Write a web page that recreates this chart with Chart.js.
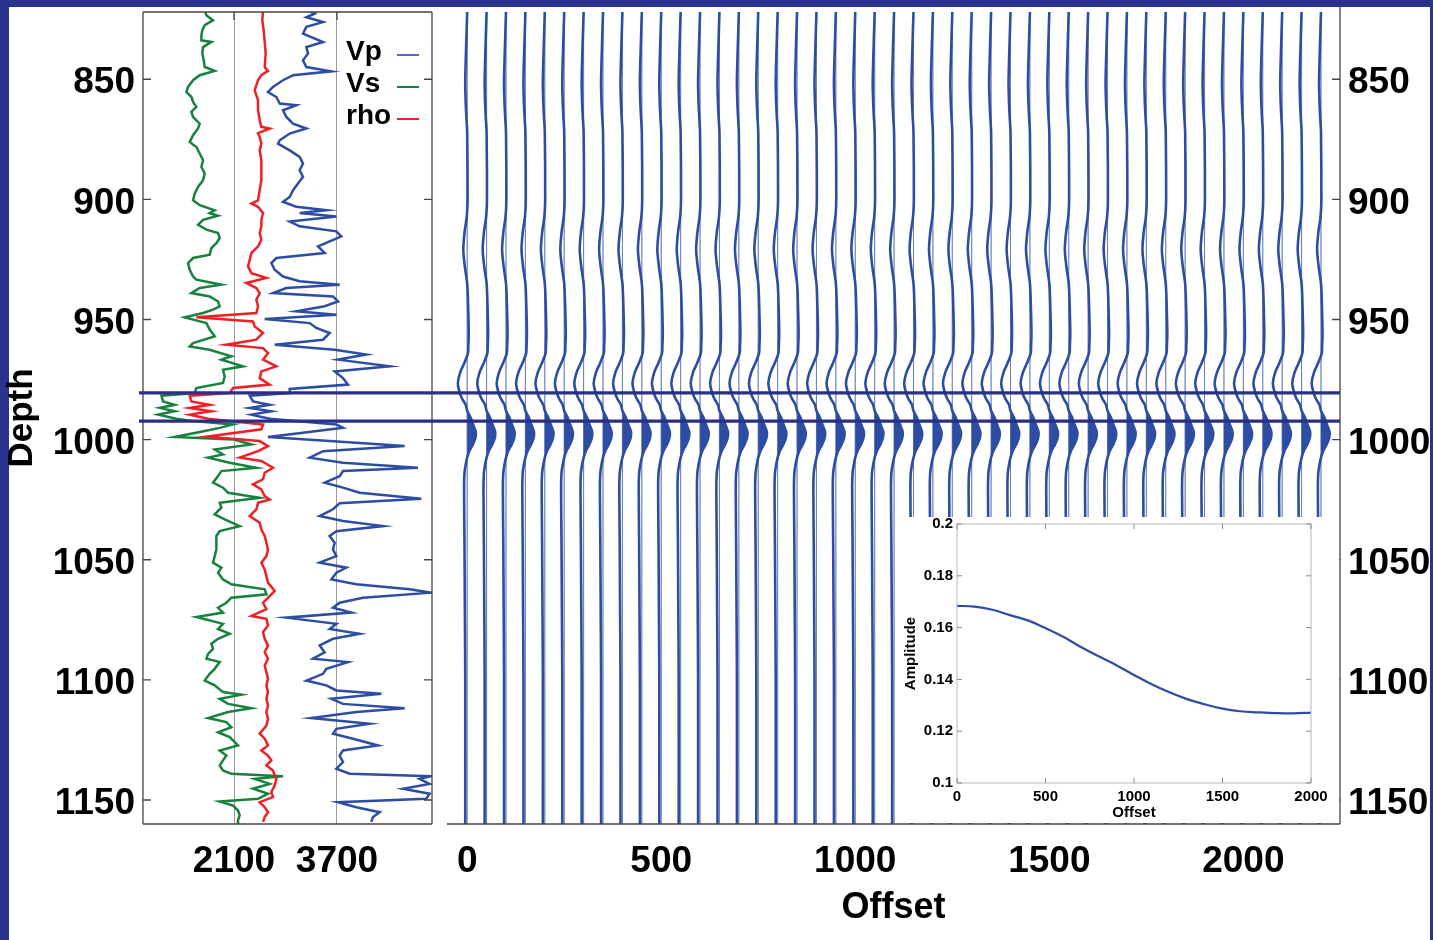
<!DOCTYPE html>
<html lang="en">
<head>
<meta charset="utf-8">
<title>Gas sand: well logs and offset gather</title>
<script src="https://cdn.jsdelivr.net/npm/chart.js@4.4.1/dist/chart.umd.min.js"></script>
<style>
  html, body { margin: 0; padding: 0; }
  body { position: relative; width: 1433px; height: 940px; overflow: hidden; background: #2a3390; }
  #sheet { position: absolute; left: 9px; top: 7px; width: 1421px; height: 933px; background: #ffffff; }
  canvas { position: absolute; }
  #log-chart { left: 0; top: 0; width: 440px; height: 940px; }
  #gather-chart { left: 440px; top: 0; width: 990px; height: 940px; }
  #avo-chart { left: 897px; top: 517px; width: 442px; height: 306px; }
</style>
</head>
<body>
<div id="sheet"></div>
<canvas id="log-chart" width="440" height="940"></canvas>
<canvas id="gather-chart" width="990" height="940"></canvas>
<canvas id="avo-chart" width="442" height="306"></canvas>
<script>
// depth axis, shared by the logs and the gather (m)
const depthMin = 822;
const depthMax = 1160;
const depthTicks = [850, 900, 950, 1000, 1050, 1100, 1150];
const gasTop = 980.5;
const gasBase = 992.3;

// log panel x axis
const logMin = 686;
const logMax = 5176;
const logTicks = [2100, 3700];

// Vs log
const vsDepth = [821.3, 823.4, 825.5, 827.5, 829.6, 831.7, 833.8, 834.5, 836.6, 839.3,
  842.1, 844.9, 846.5, 848.3, 850.4, 853.2, 855.3, 857.4, 859.4, 861.5,
  863.6, 865.7, 868.5, 870.5, 873.3, 876.1, 878.2, 880.9, 883.7, 886.5,
  889.3, 892, 894.8, 897.6, 900.4, 902.4, 904.5, 905.7, 906.8, 908.5,
  910.6, 912.6, 914, 916.1, 918.2, 920.3, 923, 924.4, 926.5, 929.3,
  932.1, 933.4, 935.5, 936.9, 939, 940.4, 942.5, 944.5, 945.9, 947.3,
  949.1, 951.5, 954.2, 957, 959.8, 961.2, 962.6, 965.3, 966.7, 969.5,
  970.9, 973.7, 976.4, 978.5, 980.6, 981.7, 984.1, 985.5, 986.8, 988.2,
  989.6, 991.3, 992.3, 993.7, 995.1, 996.4, 998.9, 999.9, 1002, 1004.1,
  1006.2, 1007.5, 1009.6, 1011.7, 1013.1, 1015.2, 1017.9, 1020, 1022.1, 1024.2,
  1026.3, 1028.3, 1031.1, 1033.2, 1036, 1038.1, 1040.1, 1042.9, 1045.7, 1048.5,
  1051.2, 1053.3, 1055.4, 1058.2, 1060.2, 1062.3, 1064.4, 1065.8, 1067.9, 1070,
  1072, 1073.8, 1076.7, 1078.8, 1080.8, 1082.9, 1085, 1087.1, 1089.2, 1091.2,
  1092.6, 1095.4, 1097.5, 1100.3, 1102.3, 1105.1, 1106.2, 1107.9, 1110, 1111.8,
  1113.4, 1115.9, 1117.6, 1119.7, 1121.8, 1123.8, 1127.3, 1129.4, 1131.5, 1133.5,
  1135.6, 1137.7, 1139.1, 1140.1, 1141.2, 1143.3, 1145.3, 1147.4, 1149.5, 1150.6,
  1152.3, 1154.4, 1156.4, 1158.5, 1160];
const vsValue = [1645, 1671, 1774, 1645, 1608, 1593, 1593, 1748, 1619, 1608,
  1629, 1645, 1800, 1567, 1464, 1386, 1360, 1438, 1464, 1515,
  1438, 1464, 1567, 1541, 1464, 1412, 1515, 1567, 1619, 1593,
  1645, 1619, 1541, 1489, 1464, 1567, 1800, 1722, 1852, 1619,
  1541, 1671, 1852, 1878, 1826, 1748, 1722, 1464, 1386, 1412,
  1464, 1515, 1904, 1567, 1438, 1722, 1852, 1878, 1774, 1619,
  1334, 1671, 1722, 1800, 1464, 1412, 1722, 2059, 1904, 2240,
  1929, 1955, 1929, 1515, 1489, 972, 998, 1179, 946, 1179,
  920, 1205, 1464, 2085, 1878, 1645, 1179, 2085, 2370, 1800,
  1929, 1697, 2033, 2447, 1904, 1852, 1774, 1929, 2007, 2499,
  1878, 1904, 1800, 1955, 2188, 1878, 1826, 1826, 1826, 1800,
  1774, 1904, 1852, 1929, 2059, 2577, 2603, 2059, 1981, 1852,
  1929, 1515, 1929, 1852, 2033, 1852, 1748, 1774, 1697, 1671,
  1878, 1800, 1722, 1645, 1800, 1929, 2214, 1878, 2007, 2370,
  2007, 1697, 1981, 2059, 1852, 2033, 2162, 1878, 1981, 1929,
  1878, 1929, 2059, 2861, 2421, 2654, 2395, 2628, 2473, 1878,
  2085, 2162, 2188, 2162, 2162];

// density log
const rhoDepth = [821.3, 825.5, 829.6, 834.5, 839.3, 844.9, 846.5, 848.3, 850.4, 854.6,
  858.7, 862.9, 867.1, 869.8, 870.5, 872.4, 874, 876.8, 879.6, 883.7,
  887.9, 892, 896.2, 900.4, 901.7, 903.1, 905.7, 908.5, 911.2, 914,
  916.8, 919.6, 922.3, 925.1, 927.9, 930.7, 932.7, 934.8, 936.9, 939,
  941.8, 944.5, 947.3, 949.1, 950.8, 952.9, 955.6, 958.4, 960.5, 961.9,
  964, 966.7, 969.5, 971.6, 974.4, 977.1, 978.5, 980.6, 981.7, 984.1,
  985.5, 986.8, 988.2, 989.6, 991.3, 993.7, 995.7, 998.8, 1000.6, 1002.7,
  1004.8, 1007.5, 1008.9, 1011.7, 1013.8, 1016.5, 1018.6, 1020.7, 1023.5, 1024.9,
  1026.3, 1029, 1031.8, 1034.6, 1037.4, 1040.1, 1042.9, 1045.7, 1048.5, 1051.2,
  1054, 1056.8, 1059.5, 1063, 1065.1, 1067.9, 1070.6, 1073.4, 1074.6, 1077.4,
  1080.1, 1082.9, 1085.7, 1088.5, 1091.2, 1094, 1096.8, 1099.6, 1102.3, 1105.1,
  1107.9, 1110.7, 1113.4, 1116.2, 1119, 1122.4, 1124.5, 1127.3, 1129.4, 1131.5,
  1133.5, 1135.6, 1137.7, 1139.8, 1141.2, 1143.9, 1146.7, 1148.8, 1150.9, 1153,
  1155.1, 1157.1, 1159.1];
const rhoValue = [2551, 2540, 2560, 2577, 2592, 2577, 2628, 2525, 2473, 2421,
  2473, 2473, 2499, 2525, 2654, 2473, 2499, 2525, 2499, 2525,
  2525, 2525, 2499, 2473, 2370, 2473, 2551, 2525, 2525, 2499,
  2525, 2473, 2370, 2344, 2318, 2370, 2603, 2292, 2447, 2499,
  2447, 2473, 2447, 1515, 2395, 2421, 2551, 2447, 1981, 2551,
  2628, 2551, 2758, 2525, 2499, 2654, 2085, 2033, 1412, 1438,
  1722, 1412, 1748, 1412, 1697, 2551, 2525, 1671, 2499, 2628,
  2473, 2188, 2525, 2706, 2577, 2551, 2395, 2525, 2577, 2654,
  2473, 2447, 2344, 2499, 2525, 2577, 2603, 2628, 2603, 2525,
  2577, 2603, 2628, 2732, 2654, 2551, 2603, 2370, 2603, 2628,
  2551, 2577, 2628, 2577, 2628, 2577, 2603, 2628, 2603, 2628,
  2603, 2628, 2603, 2628, 2603, 2499, 2577, 2628, 2525, 2628,
  2680, 2603, 2706, 2732, 2758, 2732, 2680, 2706, 2499, 2577,
  2628, 2577, 2551];

// Vp log
const vpDepth = [821.3, 822.7, 824.2, 826.2, 828.2, 831, 834.5, 836.6, 839.3, 842.1,
  844.9, 846.7, 848.3, 850.4, 853.2, 855.3, 857.4, 860.1, 860.8, 862.9,
  865.7, 868.5, 870.5, 872.6, 875.4, 876.8, 879.6, 882.3, 885.1, 887.9,
  890.6, 893.4, 896.2, 899, 901, 903.1, 904.5, 905.7, 907.1, 909.2,
  911.2, 913.3, 915.4, 917.5, 919.6, 922.3, 924.4, 926.5, 929.3, 932.1,
  934.1, 935.5, 936.9, 939, 940.4, 942.5, 944.5, 946.6, 948, 949.8,
  951.5, 953.5, 955.6, 958.4, 960.5, 962.6, 964.6, 966.7, 969.5, 971.6,
  974.4, 977.1, 978.9, 980.6, 981.7, 984.1, 985.5, 986.8, 988.2, 989.6,
  991.3, 993.7, 995.1, 997.1, 998.9, 1000.6, 1002.7, 1004.8, 1007.5, 1009.6,
  1011.7, 1013.1, 1015.2, 1017.9, 1020, 1022.1, 1024.6, 1026.5, 1029, 1031.8,
  1033.9, 1036, 1038.1, 1040.1, 1042.9, 1045.7, 1048.5, 1051.2, 1053.3, 1055.4,
  1058.2, 1060.2, 1062.3, 1063.7, 1065.8, 1067.9, 1070, 1072, 1074.1, 1076.7,
  1078.8, 1080.8, 1082.9, 1085.7, 1088.5, 1091.2, 1092.6, 1095.4, 1097.5, 1100.3,
  1102.3, 1104.4, 1105.8, 1107.9, 1110, 1111.8, 1113.4, 1115.9, 1118.3, 1120.4,
  1122.4, 1124.5, 1127.3, 1129.4, 1131.5, 1134.2, 1137, 1139.1, 1140.1, 1141.2,
  1143.3, 1145.3, 1147.4, 1149.5, 1150.9, 1153, 1155.1, 1157.1, 1159.1];
const vpValue = [3250, 3353, 3224, 3483, 3224, 3172, 3483, 3224, 3250, 3172,
  3224, 3612, 3017, 2861, 2706, 2628, 2758, 2810, 3068, 2861,
  2913, 3017, 3224, 2965, 2810, 2784, 2965, 3120, 3172, 3120,
  3172, 3094, 3017, 2965, 2861, 3068, 3534, 3120, 3690, 2965,
  3120, 3690, 3767, 3586, 3405, 3508, 2758, 2680, 2732, 2861,
  3120, 3741, 2913, 2706, 3638, 3716, 3508, 3068, 3690, 2577,
  3276, 3379, 3586, 3483, 2732, 3664, 4156, 3716, 4518, 3664,
  3793, 3871, 2965, 2965, 2344, 2395, 2654, 2344, 2680, 2370,
  2654, 3690, 3793, 3172, 2628, 3586, 4751, 3483, 3276, 3793,
  4958, 3793, 3741, 3508, 3793, 4052, 5010, 3741, 3638, 3431,
  3793, 4414, 3690, 3586, 3664, 3638, 3690, 3431, 3845, 3690,
  3612, 4000, 4829, 5165, 4104, 3741, 3638, 3923, 2913, 3690,
  3586, 4052, 3638, 3431, 3508, 3327, 3871, 3534, 3483, 3224,
  3534, 3690, 4389, 3612, 3793, 4751, 4000, 3301, 4207, 3690,
  3638, 3949, 4337, 3793, 3741, 3793, 3690, 3897, 5165, 4984,
  5139, 4725, 5139, 5087, 3716, 4000, 4363, 4259, 4233];

// gather: offsets of the traces and the wavelet
const offsetMin = -52;
const offsetMax = 2249;
const offsetTicks = [0, 500, 1000, 1500, 2000];
const traceOffsets = [0, 50, 100, 150, 200, 250, 300, 350, 400, 450, 500, 550, 600, 650, 700,
  750, 800, 850, 900, 950, 1000, 1050, 1100, 1150, 1200, 1250, 1300, 1350, 1400, 1450,
  1500, 1550, 1600, 1650, 1700, 1750, 1800, 1850, 1900, 1950, 2000, 2050, 2100, 2150, 2200];
const traceDepth = [822, 838, 851, 859, 866, 872, 900, 907, 914, 921, 928, 935, 942, 956, 961,
  964, 968, 972, 976.5, 980, 983, 985.5, 988, 990.5, 994, 996.7, 999.4, 1002.2, 1005,
  1007.5, 1010.6, 1014, 1021, 1042, 1070, 1100, 1160];
const traceWiggle = [0, -3, -5, -4, -2, 0, 1, -1, -7, -10, -6, 0, 2, 4, 3,
  2, -7, -18, -24, -20, -13, -4, 0, 8, 16, 22, 21, 14, 5,
  0, -4, -7, -8, -7, -6, -5, -5];

// inset: amplitude versus offset
const avoOffset = [0, 100, 200, 300, 400, 500, 600, 700, 800, 900, 1000,
  1100, 1200, 1300, 1400, 1500, 1600, 1700, 1800, 1900, 2000];
const avoAmplitude = [0.1684, 0.1681, 0.1669, 0.1648, 0.1628, 0.1598, 0.1565, 0.1525, 0.1489, 0.1455, 0.1417,
  0.1381, 0.1350, 0.1324, 0.1304, 0.1287, 0.1277, 0.1273, 0.1270, 0.1269, 0.1272];
const avoOffsetTicks = [0, 500, 1000, 1500, 2000];
const avoAmpTicks = [0.1, 0.12, 0.14, 0.16, 0.18, 0.2];

// colours
const blue = '#2d4da3';
const green = '#17813d';
const red = '#ee2026';
const navy = '#2a2e86';

Chart.defaults.font.family = '"Liberation Sans", Arial, Helvetica, sans-serif';
Chart.defaults.color = '#000';

// helpers
function fixedTicks(values) {
  return axis => { axis.ticks = values.map(v => ({ value: v })); };
}

function fixedSize(prop, size) {
  return axis => {
    axis[prop] = size;
    axis.paddingTop = 0;
    axis.paddingBottom = 0;
    axis.paddingLeft = 0;
    axis.paddingRight = 0;
  };
}

function baseOptions(padding) {
  return {
    responsive: false,
    animation: false,
    events: [],
    layout: { padding },
    plugins: { legend: { display: false }, tooltip: { enabled: false } }
  };
}

// axis box and inward tick marks
function framePlugin(cfg) {
  return {
    id: 'frame',
    afterDatasetsDraw(chart) {
      const { ctx, chartArea: a, scales } = chart;
      const top = a.top - (cfg.extendTop || 0);
      ctx.save();
      ctx.strokeStyle = cfg.color;
      ctx.lineWidth = cfg.width;
      ctx.beginPath();
      if (cfg.sides.includes('left')) { ctx.moveTo(a.left, top); ctx.lineTo(a.left, a.bottom); }
      if (cfg.sides.includes('right')) { ctx.moveTo(a.right, top); ctx.lineTo(a.right, a.bottom); }
      if (cfg.sides.includes('top')) { ctx.moveTo(a.left, a.top); ctx.lineTo(a.right, a.top); }
      if (cfg.sides.includes('bottom')) { ctx.moveTo(a.left, a.bottom); ctx.lineTo(a.right, a.bottom); }
      ctx.stroke();

      ctx.strokeStyle = cfg.tickColor || cfg.color;
      ctx.beginPath();
      const n = cfg.tickLen;
      scales.y.ticks.forEach(t => {
        const y = scales.y.getPixelForValue(t.value);
        if (cfg.yTicks.includes('left')) { ctx.moveTo(a.left, y); ctx.lineTo(a.left + n, y); }
        if (cfg.yTicks.includes('right')) { ctx.moveTo(a.right, y); ctx.lineTo(a.right - n, y); }
      });
      scales.x.ticks.forEach(t => {
        const x = scales.x.getPixelForValue(t.value);
        if (cfg.xTicks.includes('top')) { ctx.moveTo(x, a.top); ctx.lineTo(x, a.top + n); }
        if (cfg.xTicks.includes('bottom')) { ctx.moveTo(x, a.bottom); ctx.lineTo(x, a.bottom - n); }
      });
      ctx.stroke();
      ctx.restore();
    }
  };
}

// the two horizontal lines marking the gas sand, across both panels
function gasLinesPlugin(side) {
  return {
    id: 'gasLines',
    afterDatasetsDraw(chart) {
      const { ctx, chartArea: a, scales } = chart;
      const x0 = side === 'left' ? a.left - 4 : 0;
      const x1 = side === 'left' ? chart.width : a.right;
      ctx.save();
      ctx.strokeStyle = navy;
      ctx.lineWidth = 3.2;
      [gasTop, gasBase].forEach(d => {
        const y = scales.y.getPixelForValue(d);
        ctx.beginPath();
        ctx.moveTo(x0, y);
        ctx.lineTo(x1, y);
        ctx.stroke();
      });
      ctx.restore();
    }
  };
}

// legend drawn inside the log panel
const logLegendItems = [
  { label: 'Vp', color: '#5568bf' },
  { label: 'Vs', color: green },
  { label: 'rho', color: red }
];
const logLegendPlugin = {
  id: 'logLegend',
  afterDatasetsDraw(chart) {
    const { ctx, chartArea: a } = chart;
    ctx.save();
    ctx.font = 'bold 28px "Liberation Sans", Arial, sans-serif';
    ctx.textAlign = 'left';
    ctx.textBaseline = 'middle';
    logLegendItems.forEach((item, i) => {
      const y = a.top + 40 + i * 32;
      ctx.fillStyle = '#000';
      ctx.fillText(item.label, a.right - 86, y);
      ctx.strokeStyle = item.color;
      ctx.lineWidth = 2;
      ctx.beginPath();
      ctx.moveTo(a.right - 35, y + 3);
      ctx.lineTo(a.right - 13, y + 3);
      ctx.stroke();
    });
    ctx.restore();
  }
};

// white card behind the inset
const paperPlugin = {
  id: 'paper',
  beforeDraw(chart) {
    const ctx = chart.ctx;
    ctx.save();
    ctx.fillStyle = '#ffffff';
    ctx.fillRect(0, 0, chart.width, chart.height);
    ctx.restore();
  }
};

// ---- log panel ----
function logDataset(depths, values, color) {
  return {
    data: depths.map((d, i) => ({ x: values[i], y: d })),
    borderColor: color,
    borderWidth: 2.5,
    pointRadius: 0,
    tension: 0,
    fill: false
  };
}

new Chart(document.getElementById('log-chart'), {
  type: 'line',
  data: {
    datasets: [
      logDataset(vpDepth, vpValue, blue),
      logDataset(rhoDepth, rhoValue, red),
      logDataset(vsDepth, vsValue, green)
    ]
  },
  options: {
    ...baseOptions({ top: 12, right: 8, left: 0, bottom: 0 }),
    scales: {
      x: {
        type: 'linear', min: logMin, max: logMax, bounds: 'data',
        afterBuildTicks: fixedTicks(logTicks),
        afterFit: fixedSize('height', 116),
        grid: { color: '#9d9d9d', lineWidth: 1, drawTicks: false },
        border: { display: false },
        ticks: { font: { size: 37, weight: 'bold' }, padding: 16, maxRotation: 0, autoSkip: false, callback: v => String(v) }
      },
      y: {
        type: 'linear', reverse: true, min: depthMin, max: depthMax, bounds: 'data',
        afterBuildTicks: fixedTicks(depthTicks),
        afterFit: fixedSize('width', 143),
        grid: { display: false, drawTicks: false },
        border: { display: false },
        ticks: { font: { size: 37, weight: 'bold' }, padding: 8, labelOffset: 4, autoSkip: false, callback: v => String(v) },
        title: { display: true, text: 'Depth', font: { size: 35, weight: 'bold' }, padding: { top: 1, bottom: 0 } }
      }
    }
  },
  plugins: [
    framePlugin({ color: '#444', width: 1.3, sides: ['left', 'right', 'top', 'bottom'], yTicks: ['left', 'right'], xTicks: ['top'], tickLen: 8 }),
    gasLinesPlugin('left'),
    logLegendPlugin
  ]
});

// ---- offset gather ----
// positive lobe of the wavelet gets the variable-area fill
const peakIndex = traceWiggle.indexOf(Math.max(...traceWiggle));
let lobeStart = peakIndex;
let lobeEnd = peakIndex;
while (lobeStart > 0 && traceWiggle[lobeStart - 1] >= 0) lobeStart--;
while (lobeEnd < traceWiggle.length - 1 && traceWiggle[lobeEnd + 1] >= 0) lobeEnd++;

const gatherDatasets = [];
traceOffsets.forEach(off => {
  gatherDatasets.push({
    data: traceDepth.map((d, i) => ({ x: off + traceWiggle[i], y: d })),
    borderColor: blue, borderWidth: 2.6, pointRadius: 0, tension: 0.3, fill: false, order: 1
  });
  const lobe = [];
  for (let i = lobeStart; i <= lobeEnd; i++) lobe.push({ x: off + traceWiggle[i], y: traceDepth[i] });
  gatherDatasets.push({
    data: lobe,
    borderColor: 'rgba(0,0,0,0)', borderWidth: 0, backgroundColor: blue,
    pointRadius: 0, tension: 0.3, fill: 'shape', order: 2
  });
  gatherDatasets.push({
    data: [{ x: off, y: depthMin }, { x: off, y: depthMax }],
    borderColor: 'rgba(45,77,163,0.35)', borderWidth: 1, pointRadius: 0, fill: false, order: 3
  });
});

new Chart(document.getElementById('gather-chart'), {
  type: 'line',
  data: { datasets: gatherDatasets },
  options: {
    ...baseOptions({ top: 12, right: 0, left: 7, bottom: 0 }),
    scales: {
      x: {
        type: 'linear', min: offsetMin, max: offsetMax, bounds: 'data',
        afterBuildTicks: fixedTicks(offsetTicks),
        afterFit: fixedSize('height', 116),
        grid: { display: false, drawTicks: false },
        border: { display: false },
        ticks: { font: { size: 37, weight: 'bold' }, padding: 16, maxRotation: 0, autoSkip: false, callback: v => String(v) },
        title: { display: true, text: 'Offset', font: { size: 36, weight: 'bold' }, padding: { top: 0, bottom: 10 } }
      },
      y: {
        type: 'linear', position: 'right', reverse: true, min: depthMin, max: depthMax, bounds: 'data',
        afterBuildTicks: fixedTicks(depthTicks),
        afterFit: fixedSize('width', 90),
        grid: { display: false, drawTicks: false },
        border: { display: false },
        ticks: { font: { size: 37, weight: 'bold' }, padding: 8, labelOffset: 4, autoSkip: false, callback: v => String(v) }
      }
    }
  },
  plugins: [
    framePlugin({ color: '#444', width: 1.3, sides: ['right', 'bottom'], extendTop: 5, yTicks: ['right'], xTicks: [], tickLen: 8 }),
    gasLinesPlugin('right')
  ]
});

// ---- inset: amplitude versus offset ----
new Chart(document.getElementById('avo-chart'), {
  type: 'line',
  data: {
    datasets: [{
      data: avoOffset.map((o, i) => ({ x: o, y: avoAmplitude[i] })),
      borderColor: blue, borderWidth: 2.2, pointRadius: 0, tension: 0.4, fill: false
    }]
  },
  options: {
    ...baseOptions({ top: 7, right: 28, left: 0, bottom: 0 }),
    scales: {
      x: {
        type: 'linear', min: 0, max: 2000, bounds: 'data',
        afterBuildTicks: fixedTicks(avoOffsetTicks),
        afterFit: fixedSize('height', 40),
        grid: { display: false, drawTicks: false },
        border: { display: false },
        ticks: { font: { size: 15, weight: 'bold' }, padding: 5, maxRotation: 0, autoSkip: false, callback: v => String(v) },
        title: { display: true, text: 'Offset', font: { size: 15, weight: 'bold' }, padding: { top: 0, bottom: 1 } }
      },
      y: {
        type: 'linear', min: 0.1, max: 0.2, bounds: 'data',
        afterBuildTicks: fixedTicks(avoAmpTicks),
        afterFit: fixedSize('width', 60),
        grid: { display: false, drawTicks: false },
        border: { display: false },
        ticks: { font: { size: 15, weight: 'bold' }, padding: 4, autoSkip: false, callback: v => String(+v.toFixed(2)) },
        title: { display: true, text: 'Amplitude', font: { size: 15, weight: 'bold' }, padding: { top: 5, bottom: 0 } }
      }
    }
  },
  plugins: [
    paperPlugin,
    framePlugin({ color: '#b8b8b8', tickColor: '#8a8a8a', width: 1, sides: ['left', 'right', 'top', 'bottom'], yTicks: ['left', 'right'], xTicks: ['top', 'bottom'], tickLen: 5 })
  ]
});
</script>
</body>
</html>
